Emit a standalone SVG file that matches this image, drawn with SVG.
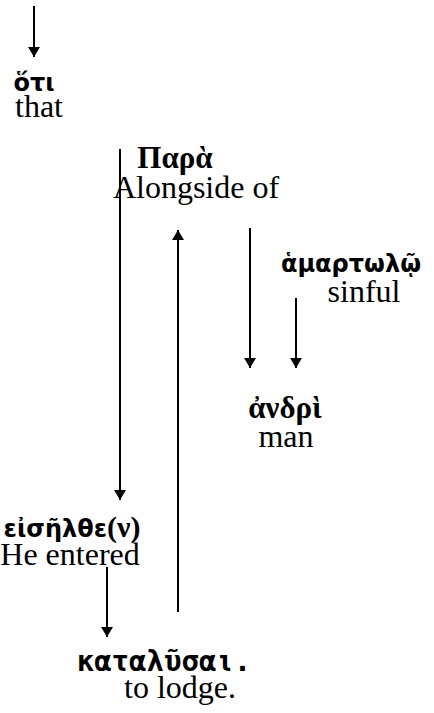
<svg xmlns="http://www.w3.org/2000/svg" width="434" height="713" viewBox="0 0 434 713">
<style>
.en{font-family:"Liberation Serif","Times New Roman",serif;font-size:32px;fill:#000;text-anchor:middle}
.gs{font-family:"DejaVu Sans","Noto Sans",sans-serif;font-weight:bold;font-size:24px;fill:#000;text-anchor:middle}
.gm{font-family:"DejaVu Sans Mono","Liberation Mono",monospace;font-weight:bold;font-size:29px;fill:#000;text-anchor:middle}
.gt{font-family:"Liberation Serif","Times New Roman",serif;font-weight:bold;font-size:31px;fill:#000;text-anchor:middle}
.ser{font-family:"Liberation Serif","Times New Roman",serif;font-size:30px}
.ln{stroke:#000;stroke-width:2;fill:none}
</style>
<defs>
<marker id="ah" viewBox="0 0 10 12" refX="10" refY="6" markerWidth="10" markerHeight="12" markerUnits="userSpaceOnUse" orient="auto">
<path d="M0,0 L10,6 L0,12 Z" fill="#000"/>
</marker>
</defs>
<g id="connectors">
<line class="ln" x1="34" y1="6" x2="34" y2="57" marker-end="url(#ah)"/>
<line class="ln" x1="120" y1="149" x2="120" y2="500" marker-end="url(#ah)"/>
<line class="ln" x1="178" y1="612" x2="178" y2="230" marker-end="url(#ah)"/>
<line class="ln" x1="250" y1="228" x2="250" y2="368" marker-end="url(#ah)"/>
<line class="ln" x1="296" y1="298" x2="296" y2="368" marker-end="url(#ah)"/>
<line class="ln" x1="107" y1="567" x2="107" y2="637" marker-end="url(#ah)"/>
</g>
<g id="hoti">
<text class="gs" x="34" y="91">ὅτι</text>
<text class="en" x="39" y="117">that</text>
</g>
<g id="para">
<text class="gt" x="175" y="168">Παρὰ</text>
<text class="en" x="196" y="198">Alongside of</text>
</g>
<g id="hamartolo">
<text class="gs" x="351" y="272">ἁμαρτωλῷ</text>
<text class="en" x="364" y="302">sinful</text>
</g>
<g id="andri">
<text class="gt" x="285" y="418">ἀνδρὶ</text>
<text class="en" x="286" y="447">man</text>
</g>
<g id="eiselthen">
<text class="gs" x="72" y="537">εἰσῆλθε<tspan class="ser">(ν)</tspan></text>
<text class="en" x="70" y="565">He entered</text>
</g>
<g id="katalusai">
<text class="gm" x="164" y="671">καταλῦσαι.</text>
<text class="en" x="180" y="698">to lodge.</text>
</g>
</svg>
